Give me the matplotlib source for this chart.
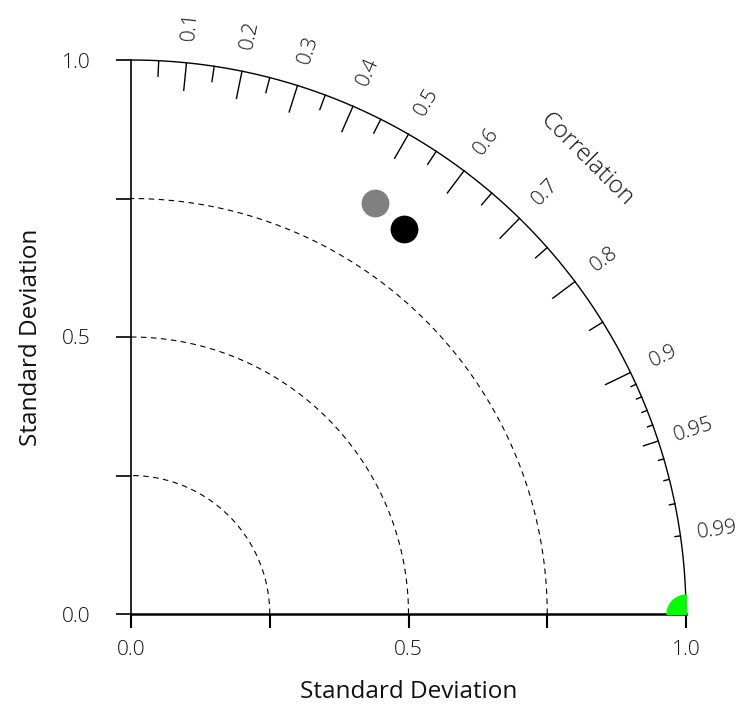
import numpy as np
import matplotlib
matplotlib.use("Agg")
import matplotlib.pyplot as plt

plt.rcParams['font.family'] = ['Open Sans', 'DejaVu Sans']
plt.rcParams['font.weight'] = 'light'
plt.rcParams['text.color'] = '#111111'
plt.rcParams['axes.labelcolor'] = '#111111'

# points on the diagram: standard deviation and correlation
point_names = ["observed", "model_a", "model_b"]
point_std = [1.0, 0.862, 0.851]
point_corr = [1.0, 0.51, 0.577]
point_colors = ["#00ff00", "#808080", "#000000"]

# correlation ticks
corr_major = [0.1, 0.2, 0.3, 0.4, 0.5, 0.6, 0.7, 0.8, 0.9]
corr_minor = [0.05, 0.15, 0.25, 0.35, 0.45, 0.55, 0.65, 0.75, 0.85, 0.95]
corr_fine = [0.91, 0.92, 0.93, 0.94, 0.96, 0.97, 0.98, 0.99]
corr_labels = [0.1, 0.2, 0.3, 0.4, 0.5, 0.6, 0.7, 0.8, 0.9, 0.95, 0.99]

# standard deviation axis
std_ticks = [0.0, 0.25, 0.5, 0.75, 1.0]
std_ticklabels = ["0.0", "", "0.5", "", "1.0"]
std_arcs = [0.25, 0.5, 0.75]


def polar_xy(r, corr):
    theta = np.arccos(corr)
    return r * np.cos(theta), r * np.sin(theta)


fig = plt.figure(figsize=(7.42, 7.07), dpi=100)
ax = fig.add_axes([131 / 742, 93 / 707, 555 / 742, 554 / 707])
ax.set_xlim(0, 1)
ax.set_ylim(0, 1)

for side in ["top", "right"]:
    ax.spines[side].set_visible(False)
ax.spines["bottom"].set_linewidth(1.8)
ax.spines["left"].set_linewidth(1.2)

ax.set_xticks(std_ticks)
ax.set_xticklabels(std_ticklabels)
ax.set_yticks(std_ticks)
ax.set_yticklabels(std_ticklabels)
ax.tick_params(axis="x", direction="out", length=10, width=1.5, pad=9,
               labelsize=15, labelcolor="#111111")
ax.tick_params(axis="y", direction="out", length=11, width=1.2, pad=18,
               labelsize=15, labelcolor="#111111")
ax.set_xlabel("Standard Deviation", fontsize=17.5, labelpad=14)
ax.set_ylabel("Standard Deviation", fontsize=17.5, labelpad=14)

# outer arc and dashed std arcs
t = np.linspace(0, np.pi / 2, 300)
ax.plot(np.cos(t), np.sin(t), color="black", lw=1.0, clip_on=False)
for r in std_arcs:
    ax.plot(r * np.cos(t), r * np.sin(t), color="black", lw=0.8,
            ls=(0, (5, 4)))

# correlation ticks on the outer arc
for c in corr_major:
    x0, y0 = polar_xy(1.0, c)
    x1, y1 = polar_xy(0.95, c)
    ax.plot([x0, x1], [y0, y1], color="black", lw=1.0, clip_on=False)
for c in corr_minor:
    x0, y0 = polar_xy(1.0, c)
    x1, y1 = polar_xy(0.972, c)
    ax.plot([x0, x1], [y0, y1], color="black", lw=1.0, clip_on=False)
for c in corr_fine:
    x0, y0 = polar_xy(1.0, c)
    x1, y1 = polar_xy(0.99, c)
    ax.plot([x0, x1], [y0, y1], color="black", lw=1.0, clip_on=False)

for c in corr_labels:
    x, y = polar_xy(1.067, c)
    ax.text(x, y, f"{c:g}", rotation=np.degrees(np.arccos(c)),
            rotation_mode="anchor", ha="center", va="center",
            fontsize=15, clip_on=False)

x, y = polar_xy(1.16, np.cos(np.radians(45)))
ax.text(x, y, "Correlation", rotation=-45, rotation_mode="anchor",
        ha="center", va="center", fontsize=17.5, clip_on=False)

# data points
for s, c, col in zip(point_std, point_corr, point_colors):
    x, y = polar_xy(s, c)
    ms = 29 if col == "#00ff00" else 20
    ax.plot(x, y, "o", color=col, ms=ms, mec="none", zorder=5)

fig.savefig("out.png", dpi=100)
